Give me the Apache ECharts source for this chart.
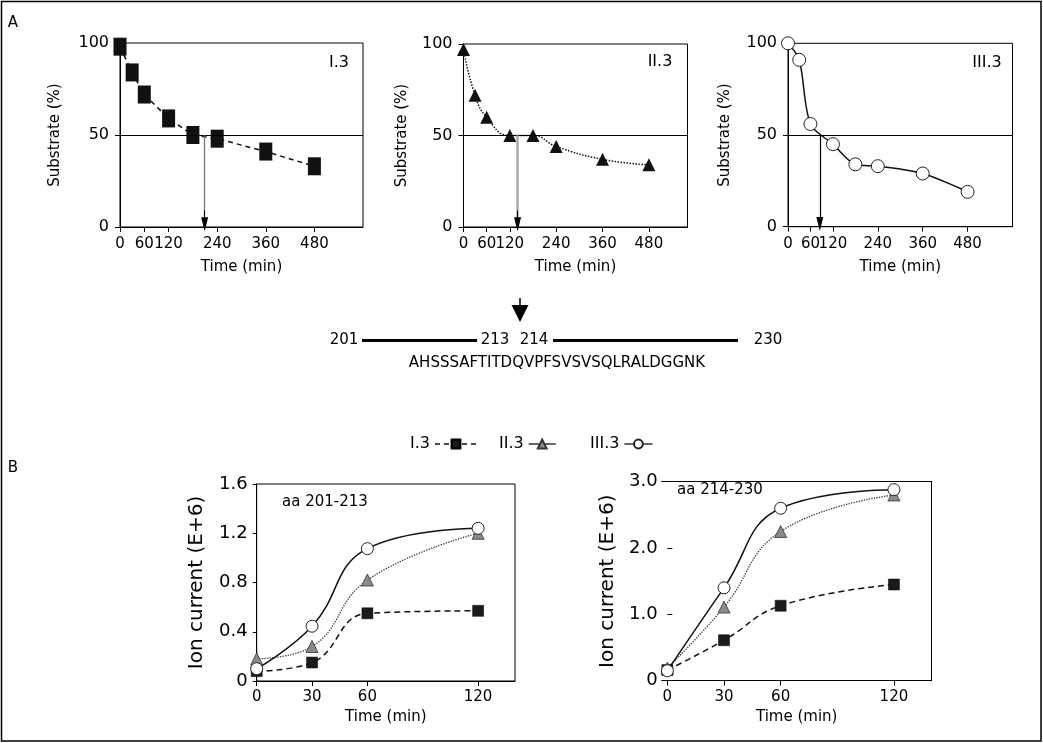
<!DOCTYPE html>
<html>
<head>
<meta charset="utf-8">
<script src="https://cdn.jsdelivr.net/npm/echarts@6/dist/echarts.min.js"></script>
<style>html,body{margin:0;padding:0;background:#fff}#c{width:1043px;height:743px}</style>
</head>
<body>
<div id="c"></div>
<script>
// ---- data ----
const aTimes = [0, 30, 60, 120, 180, 240, 360, 480];
const substrateI3 = [98, 84, 72, 59, 50, 48, 41, 33];
const substrateII3 = [97, 72, 60, 50, 50, 44, 37, 34];
const substrateIII3 = [100, 91, 56, 45, 34, 33, 29, 19];
const halfTimes = [209, 140, 85];
const aTickLabels = [0, 60, 120, 240, 360, 480];
const bTimes = [0, 30, 60, 120];
const ion201_I3 = [0.08, 0.15, 0.55, 0.57];
const ion201_II3 = [0.18, 0.28, 0.82, 1.20];
const ion201_III3 = [0.10, 0.445, 1.075, 1.24];
const ion214_I3 = [0.16, 0.61, 1.13, 1.45];
const ion214_II3 = [0.19, 1.11, 2.25, 2.80];
const ion214_III3 = [0.15, 1.40, 2.60, 2.88];
const sequence = 'AHSSSAFTITDQVPFSVSVSQLRALDGGNK';

const FF = "'DejaVu Sans', sans-serif";
const BLK = '#000';
const pairs = (xs, ys) => xs.map((x, i) => [x, ys[i]]);

function xAxisA(grid, max) {
  return {
    type: 'value', gridIndex: grid, min: 0, max: max,
    name: 'Time (min)', nameLocation: 'middle', nameGap: 33,
    nameTextStyle: {fontSize: 15, fontFamily: FF, color: BLK},
    axisLine: {show: true, lineStyle: {color: BLK, width: 1}},
    axisTick: {show: true, length: 5, lineStyle: {color: BLK}, customValues: aTickLabels},
    axisLabel: {fontSize: 15, fontFamily: FF, color: BLK, margin: 10, customValues: aTickLabels},
    splitLine: {show: false}
  };
}
function yAxisA(grid, gap) {
  return {
    type: 'value', gridIndex: grid, min: 0, max: 100, interval: 50,
    name: 'Substrate (%)', nameLocation: 'middle', nameGap: gap,
    nameTextStyle: {fontSize: 15, fontFamily: FF, color: BLK},
    axisLine: {show: true, lineStyle: {color: BLK, width: 1}},
    axisTick: {show: true, length: 5, lineStyle: {color: BLK}},
    axisLabel: {fontSize: 16, fontFamily: FF, color: BLK, margin: 11},
    splitLine: {show: false}
  };
}
function markA(t, lineColor, lineWidth) {
  return {
    silent: true, animation: false,
    symbol: ['none', 'none'],
    label: {show: false},
    lineStyle: {type: 'solid', color: BLK, width: 1},
    data: [
      {yAxis: 50},
      [{coord: [t, 50], lineStyle: {color: lineColor, width: lineWidth, type: 'solid'}}, {coord: [t, 2]}],
      [{coord: [t, 9], symbol: 'none', lineStyle: {color: BLK, width: 1, type: 'solid'}},
       {coord: [t, 1.5], symbol: 'triangle', symbolSize: [7, 14]}]
    ]
  };
}
function xAxisB(grid, min) {
  return {
    type: 'value', gridIndex: grid, min: min, max: 140,
    name: 'Time (min)', nameLocation: 'middle', nameGap: 29,
    nameTextStyle: {fontSize: 15, fontFamily: FF, color: BLK},
    axisLine: {show: true, onZero: false, lineStyle: {color: BLK, width: 1}},
    axisTick: {show: true, length: 5, lineStyle: {color: BLK}, customValues: bTimes},
    axisLabel: {fontSize: 15, fontFamily: FF, color: BLK, margin: 9, customValues: bTimes},
    splitLine: {show: false}
  };
}

const sqStyle = {color: '#1a1a1a', borderColor: '#000', borderWidth: 0.5};
const triStyle = {color: '#8a8a8a', borderColor: '#333', borderWidth: 0.8};
const cirStyle = {color: '#fff', borderColor: '#222', borderWidth: 1};

function bSeries(xi, yi, dI, dII, dIII) {
  return [
    {name: 'I.3', type: 'line', xAxisIndex: xi, yAxisIndex: yi, data: pairs(bTimes, dI), smooth: 0.45,
     symbol: 'rect', symbolSize: 11, itemStyle: sqStyle, lineStyle: {type: [6, 4], width: 1.5, color: '#111'}},
    {name: 'II.3', type: 'line', xAxisIndex: xi, yAxisIndex: yi, data: pairs(bTimes, dII), smooth: 0.45,
     symbol: 'triangle', symbolSize: 12, itemStyle: triStyle, lineStyle: {type: 'dotted', width: 1.3, color: '#333'}},
    {name: 'III.3', type: 'line', xAxisIndex: xi, yAxisIndex: yi, data: pairs(bTimes, dIII), smooth: 0.45,
     symbol: 'circle', symbolSize: 12, itemStyle: cirStyle, lineStyle: {type: 'solid', width: 1.5, color: '#111'}}
  ];
}

function txt(text, x, y, size, align, valign) {
  return {type: 'text', silent: true, style: {text: text, x: x, y: y, font: size + 'px ' + FF, fill: BLK,
    align: align || 'center', verticalAlign: valign || 'middle',
    textAlign: align || 'center', textVerticalAlign: valign || 'middle'}};
}

const legendBase = (left, width, name, extra) => ({
  left: left, top: 431, orient: 'horizontal', align: 'right', itemWidth: width, itemHeight: 11,
  selectedMode: false,
  textStyle: {fontSize: 16, fontFamily: FF, color: BLK},
  data: [Object.assign({name: name}, extra)]
});

const yNameB = {fontSize: 20, fontFamily: FF, color: BLK};
const yLabB = {fontSize: 18, fontFamily: FF, color: BLK, formatter: v => v === 0 ? '0' : v.toFixed(1)};

const option = {
  animation: false,
  backgroundColor: '#fff',
  grid: [
    {left: 120, top: 43, width: 243, height: 184, show: true, borderColor: BLK, borderWidth: 1},
    {left: 463.5, top: 44, width: 224, height: 183, show: true, borderColor: BLK, borderWidth: 1},
    {left: 788, top: 43.3, width: 224.5, height: 183.4, show: true, borderColor: BLK, borderWidth: 1},
    {left: 256.7, top: 484, width: 258.3, height: 197, show: true, borderColor: BLK, borderWidth: 1},
    {left: 661.7, top: 481.7, width: 270, height: 199, show: false}
  ],
  xAxis: [
    xAxisA(0, 600), xAxisA(1, 580), xAxisA(2, 600),
    xAxisB(3, 0), xAxisB(4, -3),
    {type: 'value', gridIndex: 4, position: 'top', min: -3, max: 140,
     axisLine: {show: true, onZero: false, lineStyle: {color: BLK}}, axisTick: {show: false}, axisLabel: {show: false}, splitLine: {show: false}}
  ],
  yAxis: [
    yAxisA(0, 57), yAxisA(1, 54), yAxisA(2, 55),
    {type: 'value', gridIndex: 3, min: 0, max: 1.6, interval: 0.4,
     name: 'Ion current (E+6)', nameLocation: 'middle', nameGap: 50,
     nameTextStyle: yNameB,
     axisLine: {show: true, lineStyle: {color: BLK}},
     axisTick: {show: true, length: 4, lineStyle: {color: BLK}},
     axisLabel: Object.assign({margin: 9}, yLabB),
     splitLine: {show: false}},
    {type: 'value', gridIndex: 4, min: 0, max: 3, interval: 1,
     name: 'Ion current (E+6)', nameLocation: 'middle', nameGap: 44,
     nameTextStyle: yNameB,
     axisLine: {show: false},
     axisTick: {show: true, inside: true, length: 5, lineStyle: {color: BLK}},
     axisLabel: Object.assign({margin: 4}, yLabB),
     splitLine: {show: false}},
    {type: 'value', gridIndex: 4, position: 'right', min: 0, max: 3,
     axisLine: {show: true, onZero: false, lineStyle: {color: BLK}}, axisTick: {show: false}, axisLabel: {show: false}, splitLine: {show: false}}
  ],
  legend: [
    legendBase(405, 42, 'I.3', {lineStyle: {type: [5, 4], color: '#111', width: 1.5}}),
    legendBase(494, 27, 'II.3', {lineStyle: {type: 'solid', color: '#111', width: 1.3}}),
    legendBase(585, 28, 'III.3', {lineStyle: {type: 'solid', color: '#111', width: 1.3}})
  ],
  series: [
    {name: 'I.3 substrate', type: 'line', xAxisIndex: 0, yAxisIndex: 0, data: pairs(aTimes, substrateI3),
     symbol: 'rect', symbolSize: [13, 18], itemStyle: {color: '#111'},
     lineStyle: {type: [5, 4], width: 1.5, color: '#111'}, markLine: markA(halfTimes[0], '#777', 1.3)},
    {name: 'II.3 substrate', type: 'line', xAxisIndex: 1, yAxisIndex: 1, data: pairs(aTimes, substrateII3),
     smooth: 0.5, symbol: 'triangle', symbolSize: 13, itemStyle: {color: '#111'},
     lineStyle: {type: 'dotted', width: 1.5, color: '#111'}, markLine: markA(halfTimes[1], '#aaa', 2.5)},
    {name: 'III.3 substrate', type: 'line', xAxisIndex: 2, yAxisIndex: 2, data: pairs(aTimes, substrateIII3),
     smooth: 0.3, symbol: 'circle', symbolSize: 13, itemStyle: cirStyle,
     lineStyle: {type: 'solid', width: 1.5, color: '#111'}, markLine: markA(halfTimes[2], '#000', 1.2)}
  ].concat(bSeries(3, 3, ion201_I3, ion201_II3, ion201_III3))
   .concat(bSeries(4, 4, ion214_I3, ion214_II3, ion214_III3)),
  graphic: [
    {type: 'rect', silent: true, shape: {x: 1.5, y: 1.5, width: 1039.5, height: 739.5},
     style: {fill: 'none', stroke: BLK, lineWidth: 1.5}},
    txt('A', 13, 23, 15), txt('B', 13, 468, 15),
    txt('I.3', 339, 63, 16), txt('II.3', 660, 62, 16), txt('III.3', 987, 63, 16),
    txt('aa 201-213', 282, 502, 15, 'left'), txt('aa 214-230', 677, 490, 15, 'left'),
    {type: 'line', silent: true, shape: {x1: 520, y1: 298, x2: 520, y2: 307}, style: {stroke: BLK, lineWidth: 1.5}},
    {type: 'polygon', silent: true, shape: {points: [[511.5, 305], [528.5, 305], [520, 322]]}, style: {fill: BLK}},
    txt('201', 344, 340, 15),
    {type: 'line', silent: true, shape: {x1: 362, y1: 340.5, x2: 477, y2: 340.5}, style: {stroke: BLK, lineWidth: 3}},
    txt('213', 495, 340, 15), txt('214', 534, 340, 15),
    {type: 'line', silent: true, shape: {x1: 553, y1: 340.5, x2: 738, y2: 340.5}, style: {stroke: BLK, lineWidth: 3}},
    txt('230', 768, 340, 15),
    txt(sequence, 557, 363, 15)
  ]
};

const chart = echarts.init(document.getElementById('c'), null, {renderer: 'canvas'});
chart.setOption(option);
</script>
</body>
</html>
